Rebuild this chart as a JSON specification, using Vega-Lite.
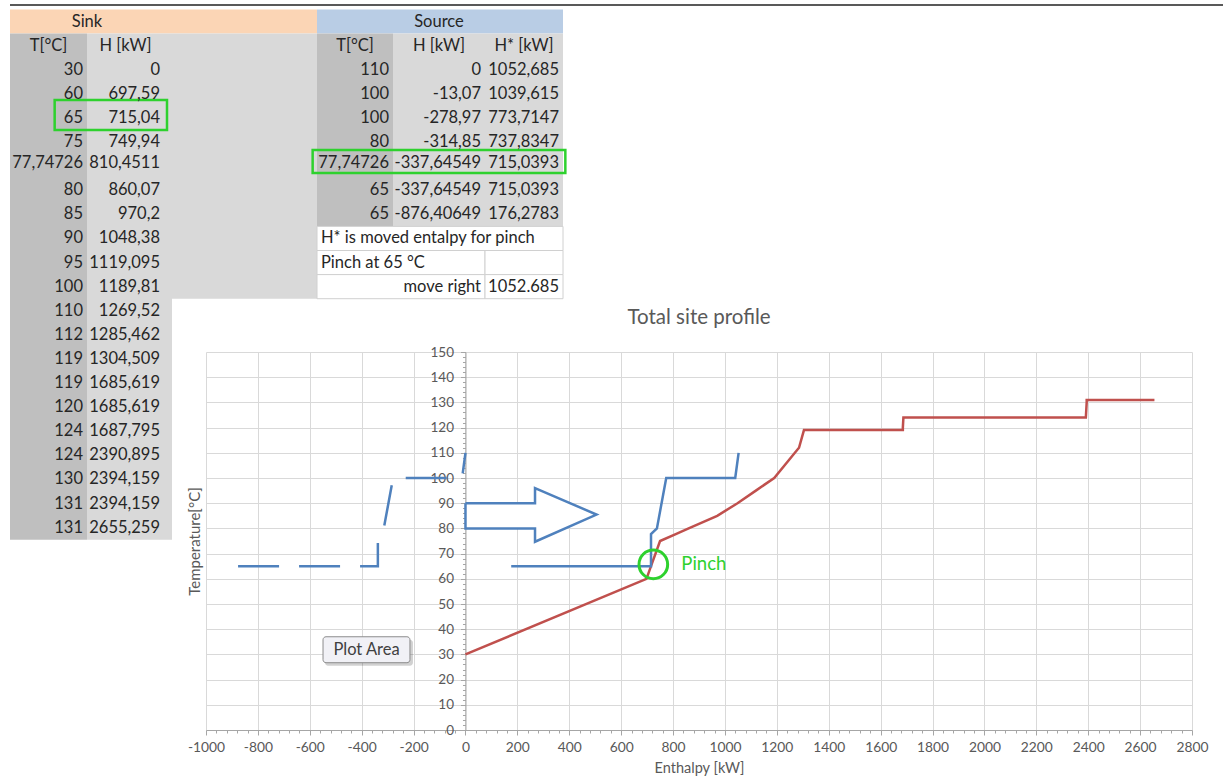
{
  "$schema": "https://vega.github.io/schema/vega-lite/v6.json",
  "width": 986,
  "height": 378,
  "autosize": {"type": "none"},
  "padding": {"left": 206, "top": 352, "right": 31, "bottom": 50},
  "background": "white",
  "config": {"view": {"stroke": null}, "font": "Lato"},
  "datasets": {
    "sink": [
      {"i":0,"T":30,"H":0},{"i":1,"T":60,"H":697.59},{"i":2,"T":65,"H":715.04},{"i":3,"T":75,"H":749.94},
      {"i":4,"T":77.74726,"H":810.4511},{"i":5,"T":80,"H":860.07},{"i":6,"T":85,"H":970.2},{"i":7,"T":90,"H":1048.38},
      {"i":8,"T":95,"H":1119.095},{"i":9,"T":100,"H":1189.81},{"i":10,"T":110,"H":1269.52},{"i":11,"T":112,"H":1285.462},
      {"i":12,"T":119,"H":1304.509},{"i":13,"T":119,"H":1685.619},{"i":14,"T":120,"H":1685.619},{"i":15,"T":124,"H":1687.795},
      {"i":16,"T":124,"H":2390.895},{"i":17,"T":130,"H":2394.159},{"i":18,"T":131,"H":2394.159},{"i":19,"T":131,"H":2655.259}
    ],
    "source": [
      {"i":0,"T":110,"H":0,"Hs":1052.685},{"i":1,"T":100,"H":-13.07,"Hs":1039.615},{"i":2,"T":100,"H":-278.97,"Hs":773.7147},
      {"i":3,"T":80,"H":-314.85,"Hs":737.8347},{"i":4,"T":77.74726,"H":-337.64549,"Hs":715.0393},
      {"i":5,"T":65,"H":-337.64549,"Hs":715.0393},{"i":6,"T":65,"H":-876.40649,"Hs":176.2783}
    ],
    "arrow": [
      {"i":0,"H":0,"T":90},{"i":1,"H":268,"T":90},{"i":2,"H":268,"T":96},{"i":3,"H":505,"T":85.5},
      {"i":4,"H":268,"T":74.7},{"i":5,"H":268,"T":80},{"i":6,"H":0,"T":80},{"i":7,"H":0,"T":90}
    ],
    "pinch": [{"H":724,"T":65.7,"label":"Pinch"}],
    "callout": [{"H1":-549,"H2":-214,"T1":26.7,"T2":37,"label":"Plot Area"}],
    "bg": [
      {"c0":0,"c1":4,"r0":0,"r1":1,"k":"sinkhead"},
      {"c0":4,"c1":7,"r0":0,"r1":1,"k":"srchead"},
      {"c0":0,"c1":1,"r0":1,"r1":22,"k":"dark"},
      {"c0":1,"c1":3,"r0":1,"r1":22,"k":"light"},
      {"c0":3,"c1":4,"r0":1,"r1":12,"k":"light"},
      {"c0":4,"c1":5,"r0":1,"r1":9,"k":"dark"},
      {"c0":5,"c1":7,"r0":1,"r1":9,"k":"light"}
    ],
    "wcells": [
      {"c0":4,"c1":7,"r0":9,"r1":10},{"c0":4,"c1":6,"r0":10,"r1":11},{"c0":6,"c1":7,"r0":10,"r1":11},
      {"c0":4,"c1":6,"r0":11,"r1":12},{"c0":6,"c1":7,"r0":11,"r1":12}
    ],
    "hl": [{"c0":0.58,"c1":2.375,"r0":3.76,"r1":5.0},{"c0":3.97,"c1":7.03,"r0":5.83,"r1":6.78}],
    "topline": [{"c0":0,"c1":16,"r0":-0.19}],
    "cells": [
      {"r":0,"c":1,"t":"Sink","a":"c"},{"r":0,"c":5.5,"t":"Source","a":"c"},
      {"r":1,"c":0.5,"t":"T[°C]","a":"c"},{"r":1,"c":1.5,"t":"H [kW]","a":"c"},
      {"r":1,"c":4.5,"t":"T[°C]","a":"c"},{"r":1,"c":5.5,"t":"H [kW]","a":"c"},{"r":1,"c":6.5,"t":"H* [kW]","a":"c"},
      {"r":2,"c":1,"t":"30","a":"r"},{"r":2,"c":2,"t":"0","a":"r"},
      {"r":3,"c":1,"t":"60","a":"r"},{"r":3,"c":2,"t":"697,59","a":"r"},
      {"r":4,"c":1,"t":"65","a":"r"},{"r":4,"c":2,"t":"715,04","a":"r"},
      {"r":5,"c":1,"t":"75","a":"r"},{"r":5,"c":2,"t":"749,94","a":"r"},
      {"r":5.88,"c":1,"t":"77,74726","a":"r"},{"r":5.88,"c":2,"t":"810,4511","a":"r"},
      {"r":7,"c":1,"t":"80","a":"r"},{"r":7,"c":2,"t":"860,07","a":"r"},
      {"r":8,"c":1,"t":"85","a":"r"},{"r":8,"c":2,"t":"970,2","a":"r"},
      {"r":9,"c":1,"t":"90","a":"r"},{"r":9,"c":2,"t":"1048,38","a":"r"},
      {"r":10,"c":1,"t":"95","a":"r"},{"r":10,"c":2,"t":"1119,095","a":"r"},
      {"r":11,"c":1,"t":"100","a":"r"},{"r":11,"c":2,"t":"1189,81","a":"r"},
      {"r":12,"c":1,"t":"110","a":"r"},{"r":12,"c":2,"t":"1269,52","a":"r"},
      {"r":13,"c":1,"t":"112","a":"r"},{"r":13,"c":2,"t":"1285,462","a":"r"},
      {"r":14,"c":1,"t":"119","a":"r"},{"r":14,"c":2,"t":"1304,509","a":"r"},
      {"r":15,"c":1,"t":"119","a":"r"},{"r":15,"c":2,"t":"1685,619","a":"r"},
      {"r":16,"c":1,"t":"120","a":"r"},{"r":16,"c":2,"t":"1685,619","a":"r"},
      {"r":17,"c":1,"t":"124","a":"r"},{"r":17,"c":2,"t":"1687,795","a":"r"},
      {"r":18,"c":1,"t":"124","a":"r"},{"r":18,"c":2,"t":"2390,895","a":"r"},
      {"r":19,"c":1,"t":"130","a":"r"},{"r":19,"c":2,"t":"2394,159","a":"r"},
      {"r":20,"c":1,"t":"131","a":"r"},{"r":20,"c":2,"t":"2394,159","a":"r"},
      {"r":21,"c":1,"t":"131","a":"r"},{"r":21,"c":2,"t":"2655,259","a":"r"},
      {"r":2,"c":5,"t":"110","a":"r"},{"r":2,"c":6,"t":"0","a":"r"},{"r":2,"c":7,"t":"1052,685","a":"r"},
      {"r":3,"c":5,"t":"100","a":"r"},{"r":3,"c":6,"t":"-13,07","a":"r"},{"r":3,"c":7,"t":"1039,615","a":"r"},
      {"r":4,"c":5,"t":"100","a":"r"},{"r":4,"c":6,"t":"-278,97","a":"r"},{"r":4,"c":7,"t":"773,7147","a":"r"},
      {"r":5,"c":5,"t":"80","a":"r"},{"r":5,"c":6,"t":"-314,85","a":"r"},{"r":5,"c":7,"t":"737,8347","a":"r"},
      {"r":5.88,"c":5,"t":"77,74726","a":"r"},{"r":5.88,"c":6,"t":"-337,64549","a":"r"},{"r":5.88,"c":7,"t":"715,0393","a":"r"},
      {"r":7,"c":5,"t":"65","a":"r"},{"r":7,"c":6,"t":"-337,64549","a":"r"},{"r":7,"c":7,"t":"715,0393","a":"r"},
      {"r":8,"c":5,"t":"65","a":"r"},{"r":8,"c":6,"t":"-876,40649","a":"r"},{"r":8,"c":7,"t":"176,2783","a":"r"},
      {"r":9,"c":4,"t":"H* is moved entalpy for pinch","a":"l"},
      {"r":10,"c":4,"t":"Pinch at 65 °C","a":"l"},
      {"r":11,"c":6,"t":"move right","a":"r"},{"r":11,"c":7,"t":"1052.685","a":"r"}
    ]
  },
  "layer": [
    {
      "layer": [
        {
          "data": {"name": "bg"},
          "mark": {"type": "rect"},
          "encoding": {
            "x": {"field": "c0", "type": "quantitative", "axis": null,
                  "scale": {"domain": [0,1,2,3,4,5,6,7], "range": [-196,-119,-42,-34,111,187,279,357], "nice": false, "zero": false}},
            "x2": {"field": "c1"},
            "y": {"field": "r0", "type": "quantitative", "axis": null,
                  "scale": {"domain": [0,22], "range": [-342.5,187.7], "nice": false, "zero": false}},
            "y2": {"field": "r1"},
            "fill": {"field": "k", "type": "nominal", "legend": null,
                     "scale": {"domain": ["sinkhead","srchead","dark","light"], "range": ["#FBD5B5","#B9CDE5","#BFBFBF","#D9D9D9"]}}
          }
        },
        {
          "data": {"name": "wcells"},
          "mark": {"type": "rect", "fill": "#FFFFFF", "stroke": "#D0D0D0", "strokeWidth": 1},
          "encoding": {
            "x": {"field": "c0", "type": "quantitative", "axis": null},
            "x2": {"field": "c1"},
            "y": {"field": "r0", "type": "quantitative", "axis": null},
            "y2": {"field": "r1"}
          }
        },
        {
          "data": {"name": "hl"},
          "mark": {"type": "rect", "fill": null, "stroke": "#2ED12E", "strokeWidth": 2.5},
          "encoding": {
            "x": {"field": "c0", "type": "quantitative", "axis": null},
            "x2": {"field": "c1"},
            "y": {"field": "r0", "type": "quantitative", "axis": null},
            "y2": {"field": "r1"}
          }
        },
        {
          "data": {"name": "topline"},
          "mark": {"type": "rule", "color": "#595959", "strokeWidth": 2},
          "encoding": {
            "x": {"field": "c0", "type": "quantitative", "axis": null},
            "x2": {"field": "c1"},
            "y": {"field": "r0", "type": "quantitative", "axis": null}
          }
        },
        {
          "data": {"name": "cells"},
          "transform": [{"filter": "datum.a === 'c'"}],
          "mark": {"type": "text", "align": "center", "baseline": "middle", "dy": 12, "fontSize": 16.5, "font": "Lato", "color": "#262626"},
          "encoding": {
            "x": {"field": "c", "type": "quantitative", "axis": null},
            "y": {"field": "r", "type": "quantitative", "axis": null},
            "text": {"field": "t"}
          }
        },
        {
          "data": {"name": "cells"},
          "transform": [{"filter": "datum.a === 'r'"}],
          "mark": {"type": "text", "align": "right", "baseline": "middle", "dx": -4, "dy": 12, "fontSize": 16.5, "font": "Lato", "color": "#262626"},
          "encoding": {
            "x": {"field": "c", "type": "quantitative", "axis": null},
            "y": {"field": "r", "type": "quantitative", "axis": null},
            "text": {"field": "t"}
          }
        },
        {
          "data": {"name": "cells"},
          "transform": [{"filter": "datum.a === 'l'"}],
          "mark": {"type": "text", "align": "left", "baseline": "middle", "dx": 4, "dy": 12, "fontSize": 16.5, "font": "Lato", "color": "#262626"},
          "encoding": {
            "x": {"field": "c", "type": "quantitative", "axis": null},
            "y": {"field": "r", "type": "quantitative", "axis": null},
            "text": {"field": "t"}
          }
        }
      ]
    },
    {
      "layer": [
        {
          "data": {"name": "sink"},
          "mark": {"type": "line", "color": "#C0504D", "strokeWidth": 2.5},
          "encoding": {
            "x": {"field": "H", "type": "quantitative",
                  "scale": {"domain": [-1000, 2800], "nice": false, "zero": false},
                  "axis": {"orient": "bottom", "title": "Enthalpy [kW]",
                           "values": [-1000,-960,-920,-880,-840,-800,-760,-720,-680,-640,-600,-560,-520,-480,-440,-400,-360,-320,-280,-240,-200,-160,-120,-80,-40,0,40,80,120,160,200,240,280,320,360,400,440,480,520,560,600,640,680,720,760,800,840,880,920,960,1000,1040,1080,1120,1160,1200,1240,1280,1320,1360,1400,1440,1480,1520,1560,1600,1640,1680,1720,1760,1800,1840,1880,1920,1960,2000,2040,2080,2120,2160,2200,2240,2280,2320,2360,2400,2440,2480,2520,2560,2600,2640,2680,2720,2760,2800],
                           "tickCount": 300,
                           "labelExpr": "datum.value % 200 === 0 ? '' + datum.value : ''",
                           "grid": true, "gridColor": "#D9D9D9", "gridWidth": 1,
                           "gridOpacity": {"condition": {"test": "datum.value % 200 === 0", "value": 1}, "value": 0},
                           "tickSize": {"condition": {"test": "datum.value % 200 === 0", "value": 5}, "value": 3},
                           "domainColor": "#A6A6A6", "tickColor": "#A6A6A6",
                           "labelColor": "#595959", "labelFontSize": 13.8, "labelFont": "Lato", "labelPadding": 5, "labelFlush": false, "labelOverlap": false, "labelBound": false,
                           "titleColor": "#595959", "titleFontSize": 14.5, "titleFont": "Lato", "titleFontWeight": "normal", "titlePadding": 8}},
            "y": {"field": "T", "type": "quantitative",
                  "scale": {"domain": [0, 150], "nice": false, "zero": false},
                  "axis": {"orient": "left", "offset": -259.47, "title": "Temperature[°C]",
                           "values": [0,2,4,6,8,10,12,14,16,18,20,22,24,26,28,30,32,34,36,38,40,42,44,46,48,50,52,54,56,58,60,62,64,66,68,70,72,74,76,78,80,82,84,86,88,90,92,94,96,98,100,102,104,106,108,110,112,114,116,118,120,122,124,126,128,130,132,134,136,138,140,142,144,146,148,150],
                           "tickCount": 300,
                           "labelExpr": "datum.value % 10 === 0 ? '' + datum.value : ''",
                           "grid": true, "gridColor": "#D9D9D9", "gridWidth": 1,
                           "gridOpacity": {"condition": {"test": "datum.value % 10 === 0", "value": 1}, "value": 0},
                           "tickSize": {"condition": {"test": "datum.value % 10 === 0", "value": 5}, "value": 3},
                           "domainColor": "#A6A6A6", "tickColor": "#A6A6A6",
                           "labelColor": "#595959", "labelFontSize": 13.5, "labelFont": "Lato", "labelPadding": 7, "labelFlush": false, "labelOverlap": false, "labelBound": false,
                           "titleColor": "#595959", "titleFontSize": 15, "titleFont": "Lato", "titleFontWeight": "normal",
                           "titleX": -270.5, "titleY": 189, "titleAngle": -90, "titleAlign": "center", "titleBaseline": "middle"}},
            "order": {"field": "i"}
          }
        },
        {
          "data": {"name": "source"},
          "mark": {"type": "line", "color": "#4F81BD", "strokeWidth": 2.5, "strokeDash": [41, 20]},
          "encoding": {
            "x": {"field": "H", "type": "quantitative"},
            "y": {"field": "T", "type": "quantitative"},
            "order": {"field": "i", "sort": "descending"}
          }
        },
        {
          "data": {"name": "source"},
          "mark": {"type": "line", "color": "#4F81BD", "strokeWidth": 2.5},
          "encoding": {
            "x": {"field": "Hs", "type": "quantitative"},
            "y": {"field": "T", "type": "quantitative"},
            "order": {"field": "i"}
          }
        },
        {
          "data": {"name": "arrow"},
          "mark": {"type": "line", "stroke": "#4F81BD", "fill": "#FFFFFF", "strokeWidth": 2.5, "strokeJoin": "miter"},
          "encoding": {
            "x": {"field": "H", "type": "quantitative"},
            "y": {"field": "T", "type": "quantitative"},
            "order": {"field": "i"}
          }
        },
        {
          "data": {"name": "pinch"},
          "mark": {"type": "point", "filled": false, "size": 820, "stroke": "#2ED12E", "strokeWidth": 3, "opacity": 1},
          "encoding": {
            "x": {"field": "H", "type": "quantitative"},
            "y": {"field": "T", "type": "quantitative"}
          }
        },
        {
          "data": {"name": "pinch"},
          "mark": {"type": "text", "align": "left", "baseline": "middle", "dx": 28, "fontSize": 18.5, "font": "Lato", "color": "#2ED12E"},
          "encoding": {
            "x": {"field": "H", "type": "quantitative"},
            "y": {"field": "T", "type": "quantitative"},
            "text": {"field": "label"}
          }
        },
        {
          "data": {"name": "callout"},
          "mark": {"type": "rect", "fill": "#000000", "opacity": 0.18, "xOffset": 2, "x2Offset": 3, "yOffset": 3, "y2Offset": 3, "cornerRadius": 3},
          "encoding": {
            "x": {"field": "H1", "type": "quantitative"},
            "x2": {"field": "H2"},
            "y": {"field": "T1", "type": "quantitative"},
            "y2": {"field": "T2"}
          }
        },
        {
          "data": {"name": "callout"},
          "mark": {"type": "rect", "fill": "#F1F1F6", "stroke": "#8C8C8C", "strokeWidth": 1, "cornerRadius": 3},
          "encoding": {
            "x": {"field": "H1", "type": "quantitative"},
            "x2": {"field": "H2"},
            "y": {"field": "T1", "type": "quantitative"},
            "y2": {"field": "T2"}
          }
        },
        {
          "data": {"name": "callout"},
          "mark": {"type": "text", "align": "center", "baseline": "middle", "dx": 43.5, "dy": -13, "fontSize": 16.5, "font": "Lato", "color": "#404040"},
          "encoding": {
            "x": {"field": "H1", "type": "quantitative"},
            "y": {"field": "T1", "type": "quantitative"},
            "text": {"field": "label"}
          }
        },
        {
          "data": {"values": [{}]},
          "mark": {"type": "text", "align": "center", "baseline": "middle", "fontSize": 20.5, "font": "Lato", "color": "#595959"},
          "encoding": {
            "x": {"datum": 900, "type": "quantitative"},
            "y": {"datum": 163.5, "type": "quantitative"},
            "text": {"value": "Total site profile"}
          }
        }
      ]
    }
  ],
  "resolve": {
    "scale": {"x": "independent", "y": "independent", "fill": "independent"},
    "axis": {"x": "independent", "y": "independent"}
  }
}
